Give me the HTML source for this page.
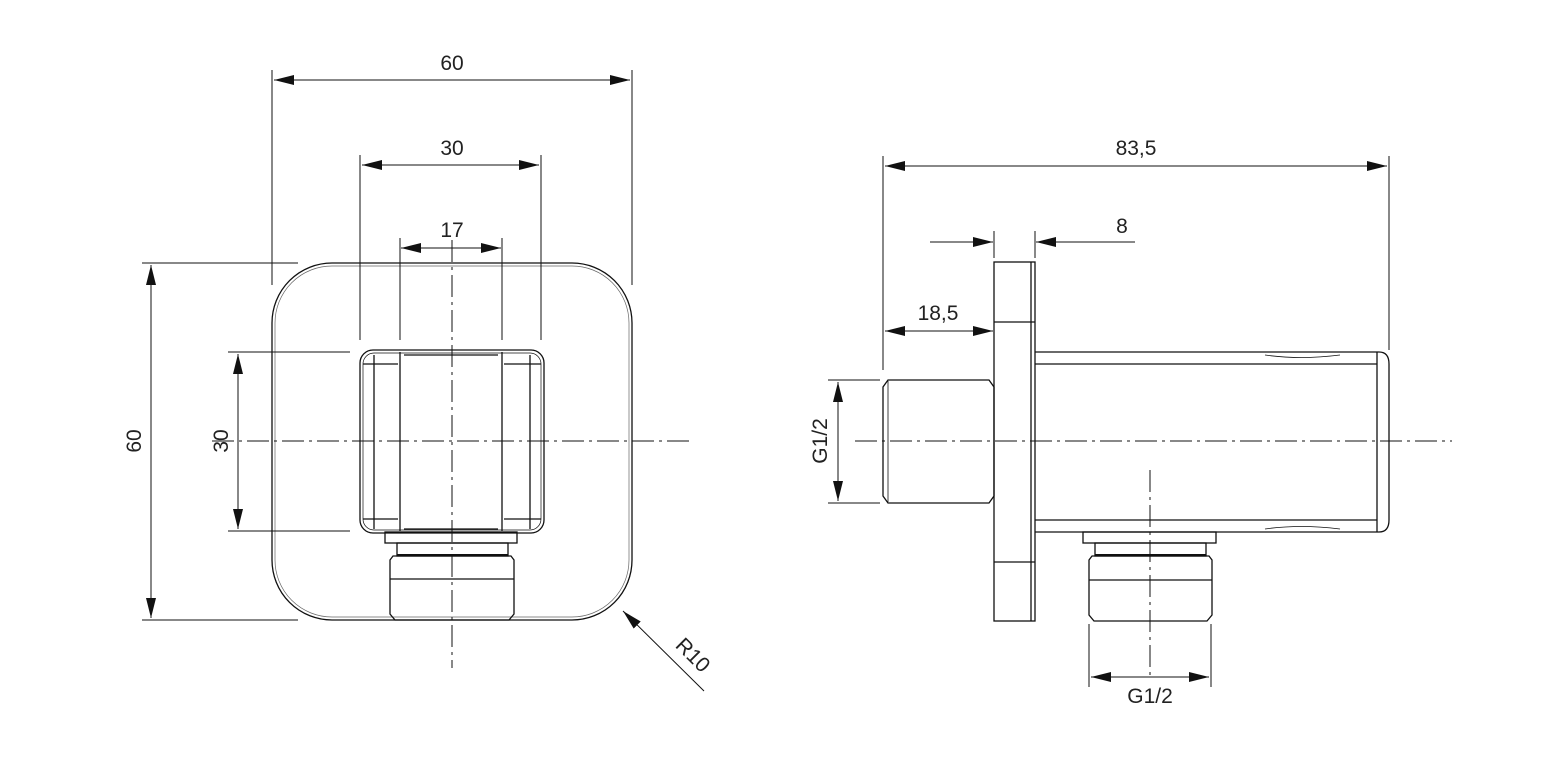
<!DOCTYPE html>
<html><head><meta charset="utf-8"><style>
html,body{margin:0;padding:0;background:#fff;}
svg{display:block;}
text{font-family:"Liberation Sans",sans-serif;font-size:21px;fill:#222;}
</style></head><body>
<svg width="1568" height="781" viewBox="0 0 1568 781" xmlns="http://www.w3.org/2000/svg">
<defs>
<marker id="a" viewBox="0 0 20 10" refX="20" refY="5" markerWidth="20" markerHeight="10" markerUnits="userSpaceOnUse" orient="auto-start-reverse"><path d="M0,0 L20,5 L0,10 z" fill="#111"/></marker>
</defs>
<g stroke="#111" stroke-width="1.3" fill="none">
<!-- LEFT VIEW -->
<rect x="272" y="263" width="360" height="357" rx="60" ry="60"/>
<rect x="275" y="266" width="354" height="351" rx="57" ry="57" stroke-width="0.7" stroke="#666"/>
<rect x="360" y="350" width="184" height="183" rx="13"/>
<rect x="363" y="353" width="178" height="177" rx="11" stroke-width="0.7"/>
<line x1="374" y1="355" x2="374" y2="529"/>
<line x1="400" y1="352" x2="400" y2="531"/>
<line x1="502" y1="352" x2="502" y2="531"/>
<line x1="530" y1="355" x2="530" y2="529"/>
<line x1="363" y1="364" x2="398" y2="364"/>
<line x1="504" y1="364" x2="541" y2="364"/>
<line x1="363" y1="519" x2="398" y2="519"/>
<line x1="504" y1="519" x2="541" y2="519"/>
<line x1="404" y1="355" x2="498" y2="355"/>
<line x1="404" y1="529" x2="498" y2="529"/>
<rect x="385" y="532" width="132" height="11"/>
<rect x="397" y="543" width="111" height="13"/>
<line x1="397" y1="555" x2="508" y2="555" stroke-width="2"/>
<path d="M390,560 L393,556 L511,556 L514,560 L514,614 L509,620 L395,620 L390,614 z"/>
<line x1="390" y1="579" x2="514" y2="579"/>
<!-- centerlines -->
<g stroke-dasharray="22,5,3,5" stroke-width="1">
<line x1="452" y1="240" x2="452" y2="668"/>
<line x1="212" y1="441" x2="690" y2="441"/>
</g>
<!-- dims left -->
<g stroke-width="1">
<line x1="272" y1="70" x2="272" y2="285"/>
<line x1="632" y1="70" x2="632" y2="285"/>
<line x1="274" y1="80" x2="630" y2="80" marker-start="url(#a)" marker-end="url(#a)"/>
<line x1="360" y1="155" x2="360" y2="340"/>
<line x1="541" y1="155" x2="541" y2="340"/>
<line x1="362" y1="165" x2="539" y2="165" marker-start="url(#a)" marker-end="url(#a)"/>
<line x1="400" y1="238" x2="400" y2="340"/>
<line x1="502" y1="238" x2="502" y2="340"/>
<line x1="401" y1="248" x2="501" y2="248" marker-start="url(#a)" marker-end="url(#a)"/>
<line x1="142" y1="263" x2="298" y2="263"/>
<line x1="142" y1="620" x2="298" y2="620"/>
<line x1="151" y1="265" x2="151" y2="618" marker-start="url(#a)" marker-end="url(#a)"/>
<line x1="228" y1="352" x2="350" y2="352"/>
<line x1="228" y1="531" x2="350" y2="531"/>
<line x1="238" y1="354" x2="238" y2="529" marker-start="url(#a)" marker-end="url(#a)"/>
<line x1="704" y1="691" x2="623" y2="611" marker-end="url(#a)"/>
</g>
<!-- RIGHT VIEW -->
<rect x="994" y="262" width="41" height="359"/>
<line x1="1031" y1="262" x2="1031" y2="621"/>
<line x1="994" y1="322" x2="1035" y2="322"/>
<line x1="994" y1="562" x2="1035" y2="562"/>
<path d="M1035,352 L1379,352 Q1389,352 1389,364 L1389,520 Q1389,532 1379,532 L1035,532"/>
<line x1="1377" y1="352" x2="1377" y2="532"/>
<line x1="1035" y1="364" x2="1377" y2="364"/>
<line x1="1035" y1="520" x2="1377" y2="520"/>
<path d="M1265,355 Q1300,360 1340,355" stroke-width="0.8"/>
<path d="M1265,529 Q1300,524 1340,529" stroke-width="0.8"/>
<path d="M888,380 L989,380 L994,387 L994,496 L989,503 L888,503 L883,496 L883,387 z"/>
<line x1="888" y1="381" x2="888" y2="502" stroke-width="0.8"/>
<rect x="1083" y="532" width="133" height="11"/>
<rect x="1095" y="543" width="111" height="13"/>
<line x1="1095" y1="555" x2="1206" y2="555" stroke-width="2"/>
<path d="M1089,560 L1092,556 L1209,556 L1212,560 L1212,615 L1207,621 L1094,621 L1089,615 z"/>
<line x1="1089" y1="580" x2="1212" y2="580"/>
<g stroke-dasharray="22,5,3,5" stroke-width="1">
<line x1="855" y1="441" x2="1452" y2="441"/>
<line x1="1150" y1="470" x2="1150" y2="680"/>
</g>
<g stroke-width="1">
<line x1="883" y1="156" x2="883" y2="370"/>
<line x1="1389" y1="156" x2="1389" y2="350"/>
<line x1="885" y1="166" x2="1387" y2="166" marker-start="url(#a)" marker-end="url(#a)"/>
<line x1="994" y1="231" x2="994" y2="258"/>
<line x1="1035" y1="231" x2="1035" y2="258"/>
<line x1="930" y1="242" x2="993" y2="242" marker-end="url(#a)"/>
<line x1="1135" y1="242" x2="1036" y2="242" marker-end="url(#a)"/>
<line x1="885" y1="331" x2="993" y2="331" marker-start="url(#a)" marker-end="url(#a)"/>
<line x1="828" y1="380" x2="880" y2="380"/>
<line x1="828" y1="503" x2="880" y2="503"/>
<line x1="838" y1="382" x2="838" y2="501" marker-start="url(#a)" marker-end="url(#a)"/>
<line x1="1089" y1="624" x2="1089" y2="687"/>
<line x1="1211" y1="624" x2="1211" y2="687"/>
<line x1="1091" y1="677" x2="1209" y2="677" marker-start="url(#a)" marker-end="url(#a)"/>
</g>
</g>
<text x="452" y="70" text-anchor="middle">60</text>
<text x="452" y="155" text-anchor="middle">30</text>
<text x="452" y="237" text-anchor="middle">17</text>
<text transform="translate(141,441) rotate(-90)" text-anchor="middle">60</text>
<text transform="translate(228,441) rotate(-90)" text-anchor="middle">30</text>
<text transform="translate(688,660) rotate(45)" text-anchor="middle">R10</text>
<text x="1136" y="155" text-anchor="middle">83,5</text>
<text x="1122" y="233" text-anchor="middle">8</text>
<text x="938" y="320" text-anchor="middle">18,5</text>
<text transform="translate(827,441) rotate(-90)" text-anchor="middle">G1/2</text>
<text x="1150" y="703" text-anchor="middle">G1/2</text>
</svg>
</body></html>
